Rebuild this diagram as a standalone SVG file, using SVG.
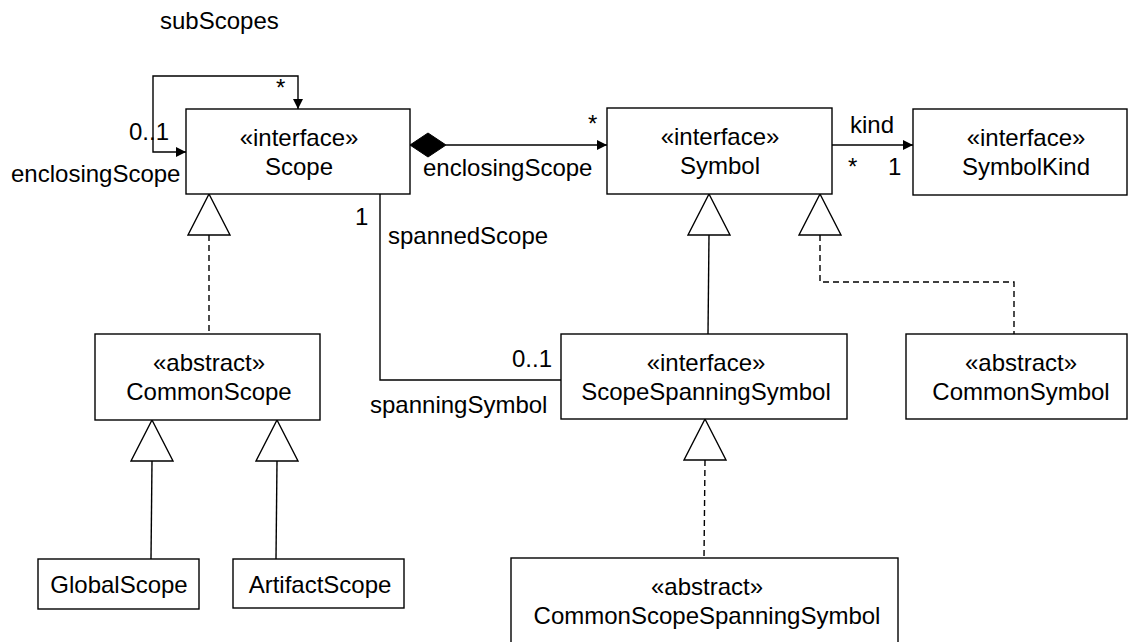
<svg xmlns="http://www.w3.org/2000/svg" width="1128" height="642" viewBox="0 0 1128 642">
<style>
  text { font-family: "Liberation Sans", Arial, sans-serif; font-size: 24px; fill: #000; }
  .c { text-anchor: middle; }
  .box { fill: #fff; stroke: #000; stroke-width: 1.4; }
  .ln { fill: none; stroke: #000; stroke-width: 1.4; }
  .dash { stroke-dasharray: 6 4; }
  .tri { fill: #fff; stroke: #000; stroke-width: 1.4; }
</style>
<defs>
  <marker id="arr" viewBox="0 0 10 10" refX="10" refY="5" markerWidth="10" markerHeight="10" markerUnits="userSpaceOnUse" orient="auto-start-reverse">
    <path d="M0,0 L10,5 L0,10 z" fill="#000"/>
  </marker>
</defs>

<g id="connectors">
  <!-- self loop subScopes / enclosingScope -->
  <path class="ln" d="M186,152 H153 V76 H298 V109" marker-start="url(#arr)" marker-end="url(#arr)"/>
  <!-- composition Scope -> Symbol -->
  <path class="ln" d="M446,145 H607" marker-end="url(#arr)"/>
  <polygon points="410,145 428,133 446,145 428,157" fill="#000" stroke="#000" stroke-width="1"/>
  <!-- kind -->
  <path class="ln" d="M832,145 H913" marker-end="url(#arr)"/>
  <!-- spannedScope / spanningSymbol -->
  <path class="ln" d="M380,194 V380 H561"/>
  <!-- Scope <- CommonScope (realization) -->
  <path class="ln dash" d="M209,235 V334"/>
  <polygon class="tri" points="209,194 230,235 188,235"/>
  <!-- CommonScope <- GlobalScope -->
  <path class="ln" d="M152,461 L151,559"/>
  <polygon class="tri" points="152,420 173,461 131,461"/>
  <!-- CommonScope <- ArtifactScope -->
  <path class="ln" d="M277,461 L276,559"/>
  <polygon class="tri" points="277,420 298,461 256,461"/>
  <!-- Symbol <- ScopeSpanningSymbol -->
  <path class="ln" d="M709,235 L708,334"/>
  <polygon class="tri" points="709,194 730,235 688,235"/>
  <!-- Symbol <- CommonSymbol (realization) -->
  <path class="ln dash" d="M820,235 V282 H1014 V334"/>
  <polygon class="tri" points="820,194 841,235 799,235"/>
  <!-- ScopeSpanningSymbol <- CommonScopeSpanningSymbol (realization) -->
  <path class="ln dash" d="M705,460 L704,558"/>
  <polygon class="tri" points="705,419 726,460 684,460"/>

  <!-- labels -->
  <text x="160" y="29">subScopes</text>
  <text x="276" y="96">*</text>
  <text x="129" y="140">0..1</text>
  <text x="11" y="182">enclosingScope</text>
  <text x="588" y="132">*</text>
  <text x="423" y="176">enclosingScope</text>
  <text x="850" y="133">kind</text>
  <text x="848" y="175">*</text>
  <text x="888" y="175">1</text>
  <text x="355" y="225">1</text>
  <text x="388" y="244">spannedScope</text>
  <text x="512" y="367">0..1</text>
  <text x="370" y="413">spanningSymbol</text>
</g>

<g id="Scope">
  <rect class="box" x="186" y="109" width="224" height="85"/>
  <text class="c" x="299" y="146">«interface»</text>
  <text class="c" x="299" y="175">Scope</text>
</g>
<g id="Symbol">
  <rect class="box" x="607" y="108" width="225" height="86"/>
  <text class="c" x="720" y="145">«interface»</text>
  <text class="c" x="720" y="174">Symbol</text>
</g>
<g id="SymbolKind">
  <rect class="box" x="913" y="109" width="214" height="86"/>
  <text class="c" x="1026" y="146">«interface»</text>
  <text class="c" x="1026" y="175">SymbolKind</text>
</g>
<g id="CommonScope">
  <rect class="box" x="95" y="334" width="225" height="86"/>
  <text class="c" x="209" y="371">«abstract»</text>
  <text class="c" x="209" y="400">CommonScope</text>
</g>
<g id="ScopeSpanningSymbol">
  <rect class="box" x="561" y="334" width="286" height="85"/>
  <text class="c" x="706" y="371">«interface»</text>
  <text class="c" x="706" y="400">ScopeSpanningSymbol</text>
</g>
<g id="CommonSymbol">
  <rect class="box" x="906" y="334" width="221" height="85"/>
  <text class="c" x="1021" y="371">«abstract»</text>
  <text class="c" x="1021" y="400">CommonSymbol</text>
</g>
<g id="GlobalScope">
  <rect class="box" x="38" y="559" width="161" height="50"/>
  <text class="c" x="119" y="593">GlobalScope</text>
</g>
<g id="ArtifactScope">
  <rect class="box" x="233" y="559" width="171" height="49"/>
  <text class="c" x="320" y="593">ArtifactScope</text>
</g>
<g id="CommonScopeSpanningSymbol">
  <rect class="box" x="511" y="558" width="387" height="92"/>
  <text class="c" x="707" y="595">«abstract»</text>
  <text class="c" x="707" y="624">CommonScopeSpanningSymbol</text>
</g>
</svg>
